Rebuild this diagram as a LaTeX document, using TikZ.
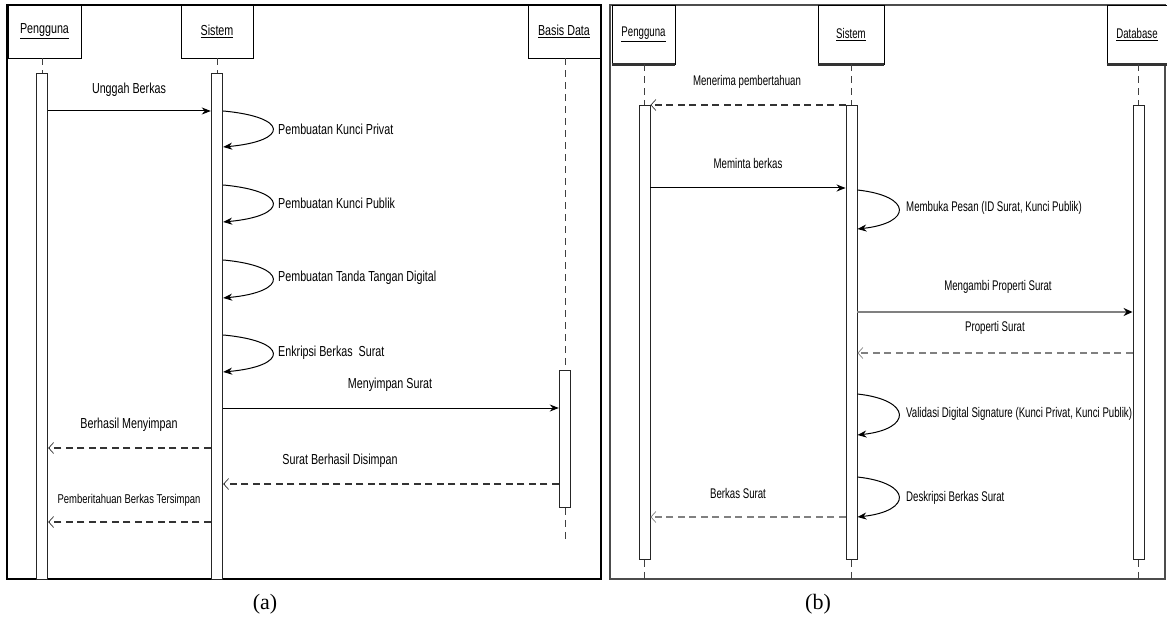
\documentclass[tikz,border=0pt]{standalone}
\usepackage{fontspec}
\setmainfont{Liberation Serif}
\newfontfamily\lfont[FakeStretch=0.74]{Liberation Sans}
\newfontfamily\rfont[FakeStretch=0.69]{Liberation Sans}
\usetikzlibrary{arrows.meta}
\begin{document}
\begin{tikzpicture}[x=1pt,y=-1pt,
  hdr/.style={draw=black, line width=0.9pt, fill=white, inner sep=0pt},
  actbar/.style={draw=black!85, line width=0.9pt, fill=white, inner sep=0pt, minimum width=11.5pt, anchor=north},
  life/.style={line width=0.8pt, draw=black!75, dash pattern=on 7pt off 5pt},
  msg/.style={line width=1pt, -{Stealth[length=9pt,width=7pt]}},
  ret/.style={line width=1.3pt, draw=black!80, dash pattern=on 7pt off 4.5pt, -{Straight Barb[length=5pt,width=11pt,line width=0.7pt]}},
  greyret/.style={line width=2.2pt, draw=black!50, dash pattern=on 7pt off 4.5pt, -{Straight Barb[length=5pt,width=11pt,line width=0.7pt]}},
  selfmsg/.style={line width=1pt, -{Stealth[length=9pt,width=7pt]}},
  ltxt/.style={font=\lfont\fontsize{14.5}{16}\selectfont, inner sep=0pt, text=black},
  stxt/.style={font=\lfont\fontsize{12.8}{14}\selectfont, inner sep=0pt, text=black},
  rtxt/.style={font=\rfont\fontsize{14}{16}\selectfont, inner sep=0pt, text=black},
  captxt/.style={font=\fontsize{22}{25}\selectfont, inner sep=0pt}
]
\useasboundingbox (0,0) rectangle (1167,620);

% ================= panel (a) =================
\draw[line width=1.2pt] (7,5) rectangle (601,579);

\node[hdr, ltxt, minimum width=73pt, minimum height=53pt] (hPa) at (44.5,31.5) {\underline{Pengguna}};
\node[hdr, ltxt, minimum width=72pt, minimum height=53pt] (hSa) at (217,31.5) {\underline{Sistem}};
\node[hdr, ltxt, minimum width=72pt, minimum height=53pt] (hBa) at (564,31.5) {\underline{Basis Data}};

\node[actbar, minimum height=506pt] (aPa) at (42,73) {};
\node[actbar, minimum height=506pt] (aSa) at (217,73) {};
\node[actbar, minimum height=137pt] (aBa) at (565,370) {};
\coordinate (eBa) at (565,540);

\draw[life] (hPa.south -| aPa.north) -- (aPa.north);
\draw[life] (hSa.south -| aSa.north) -- (aSa.north);
\draw[life] (hBa.south -| aBa.north) -- (aBa.north);
\draw[life] (aBa.south) -- (eBa);

\draw[msg] (aPa.east |- 0,111) -- (aSa.west |- 0,111);
\node[ltxt] (lUnggah) at (129,90) {Unggah Berkas};

\draw[selfmsg] (aSa.east |- 0,111) .. controls +(66,6) and +(66,-6) .. (aSa.east |- 0,147);
\node[ltxt, anchor=west] (lPriv) at (278,129) {Pembuatan Kunci Privat};
\draw[selfmsg] (aSa.east |- 0,185) .. controls +(66,6) and +(66,-6) .. (aSa.east |- 0,222);
\node[ltxt, anchor=west] (lPub) at (278,203) {Pembuatan Kunci Publik};
\draw[selfmsg] (aSa.east |- 0,260) .. controls +(66,6) and +(66,-6) .. (aSa.east |- 0,298);
\node[ltxt, anchor=west] (lTtd) at (278,278) {Pembuatan Tanda Tangan Digital};
\draw[selfmsg] (aSa.east |- 0,335) .. controls +(66,6) and +(66,-6) .. (aSa.east |- 0,372);
\node[ltxt, anchor=west] (lEnk) at (278,353) {Enkripsi Berkas \ Surat};

\draw[msg] (aSa.east |- 0,408) -- (aBa.west |- 0,408);
\node[ltxt] (lSimpan) at (390,385) {Menyimpan Surat};

\draw[ret] (aSa.west |- 0,448) -- (aPa.east |- 0,448);
\node[ltxt] (lBerhasil) at (129,425) {Berhasil Menyimpan};

\draw[ret] (aBa.west |- 0,484) -- (aSa.east |- 0,484);
\node[ltxt] (lDisimpan) at (340,461) {Surat Berhasil Disimpan};

\draw[ret] (aSa.west |- 0,522) -- (aPa.east |- 0,522);
\node[stxt] (lTersimpan) at (129,500) {Pemberitahuan Berkas Tersimpan};

\node[captxt] (capa) at (265,604) {(a)};

% ================= panel (b) =================
\draw[line width=1.2pt, black!70] (610,5) rectangle (1165,579);

\node[hdr, rtxt, minimum width=63pt, minimum height=59pt] (hPb) at (643.5,34.5) {\underline{Pengguna}};
\node[hdr, rtxt, minimum width=66pt, minimum height=59pt] (hSb) at (851,34.5) {\underline{Sistem}};
\node[hdr, rtxt, minimum width=60pt, minimum height=59pt] (hDb) at (1137,34.5) {\underline{Database}};
\draw[line width=2.2pt, black!80] (hPb.south west) -- (hPb.south east);
\draw[line width=2.2pt, black!80] (hSb.south west) -- (hSb.south east);
\draw[line width=2.2pt, black!80] (hDb.south west) -- (hDb.south east);

\node[actbar, minimum width=11pt, minimum height=454pt] (aPb) at (644.5,105) {};
\node[actbar, minimum width=11pt, minimum height=454pt] (aSb) at (851.5,105) {};
\node[actbar, minimum width=11pt, minimum height=454pt] (aDb) at (1138.5,105) {};
\coordinate (ePb) at (644.5,579);
\coordinate (eSb) at (851.5,579);
\coordinate (eDb) at (1138.5,579);

\draw[life] (hPb.south -| aPb.north) -- (aPb.north);
\draw[life] (hSb.south -| aSb.north) -- (aSb.north);
\draw[life] (hDb.south -| aDb.north) -- (aDb.north);
\draw[life] (aPb.south) -- (ePb);
\draw[life] (aSb.south) -- (eSb);
\draw[life] (aDb.south) -- (eDb);

\draw[ret] (aSb.west |- 0,105) -- (aPb.east |- 0,105);
\node[rtxt] (lTerima) at (747,82) {Menerima pembertahuan};

\draw[msg] (aPb.east |- 0,188) -- (aSb.west |- 0,188);
\node[rtxt] (lMinta) at (748,163) {Meminta berkas};

\draw[selfmsg] (aSb.east |- 0,190) .. controls +(55,6) and +(55,-6) .. (aSb.east |- 0,229);
\node[rtxt, anchor=west] (lBuka) at (906,208) {Membuka Pesan (ID Surat, Kunci Publik)};

\draw[line width=2.6pt, draw=black!50, -{Stealth[length=9pt,width=8pt,color=black]}] (aSb.east |- 0,312) -- (aDb.west |- 0,312);
\node[rtxt] (lAmbil) at (998,287) {Mengambi Properti Surat};

\draw[greyret] (aDb.west |- 0,353) -- (aSb.east |- 0,353);
\node[rtxt] (lProp) at (995,328) {Properti Surat};

\draw[selfmsg] (aSb.east |- 0,394) .. controls +(55,6) and +(55,-6) .. (aSb.east |- 0,435);
\node[rtxt, anchor=west] (lValid) at (906,414) {Validasi Digital Signature (Kunci Privat, Kunci Publik)};

\draw[selfmsg] (aSb.east |- 0,477) .. controls +(55,6) and +(55,-6) .. (aSb.east |- 0,517);
\node[rtxt, anchor=west] (lDesk) at (906,498) {Deskripsi Berkas Surat};

\draw[greyret] (aSb.west |- 0,517) -- (aPb.east |- 0,517);
\node[rtxt] (lBerkas) at (738,493) {Berkas Surat};

\node[captxt] (capb) at (818,604) {(b)};
\end{tikzpicture}
\end{document}
